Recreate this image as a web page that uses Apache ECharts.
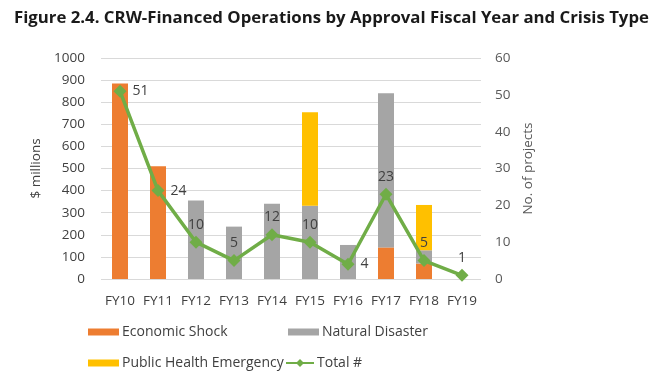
<!DOCTYPE html>
<html><head><meta charset="utf-8">
<script src="https://cdn.jsdelivr.net/npm/echarts@6/dist/echarts.min.js"></script>
<style>html,body{margin:0;padding:0;background:#fff}#c{width:656px;height:378px}</style>
</head><body><div id="c"></div>
<script>
const categories = ['FY10','FY11','FY12','FY13','FY14','FY15','FY16','FY17','FY18','FY19'];
const economicShock = [885, 510, 0, 0, 0, 0, 0, 143, 70, 0];
const naturalDisaster = [0, 0, 355, 237, 340, 332, 154, 697, 60, 0];
const publicHealth = [0, 0, 0, 0, 0, 422, 0, 0, 205, 0];
const totalProjects = [51, 24, 10, 5, 12, 10, 4, 23, 5, 1];
const leftTicks = [0, 1000, 100];
const rightTicks = [0, 60, 10];

const FONT = '"Open Sans", sans-serif';
const rightLabelIdx = [0, 1, 6];
const chart = echarts.init(document.getElementById('c'));
const legendBase = {orient:'horizontal', itemGap:0, textStyle:{fontFamily:FONT,fontSize:14,color:'#404040',padding:[0,0,0,-2]}, itemWidth:31, itemHeight:7, padding:0};
chart.setOption({
  animation:false,
  textStyle:{fontFamily:FONT},
  title:{text:'Figure 2.4. CRW-Financed Operations by Approval Fiscal Year and Crisis Type', left:9, top:5,
    textStyle:{fontFamily:FONT,fontWeight:'bold',fontSize:16.8,color:'#1a1a1a'}},
  grid:{left:101, right:175, top:58, bottom:99},
  legend:[
    Object.assign({}, legendBase, {data:[{name:'Economic Shock',icon:'rect'}], left:88, top:325}),
    Object.assign({}, legendBase, {data:[{name:'Natural Disaster',icon:'rect'}], left:288, top:325}),
    Object.assign({}, legendBase, {data:[{name:'Public Health Emergency',icon:'rect'}], left:88, top:356}),
    Object.assign({}, legendBase, {data:['Total #'], left:285, top:356, itemWidth:28, itemHeight:10})
  ],
  xAxis:{type:'category', data:categories, axisLine:{show:false}, axisTick:{show:false},
    axisLabel:{fontFamily:FONT,fontSize:13.5,color:'#404040',margin:15, interval:0, hideOverlap:false}},
  yAxis:[
    {type:'value', min:leftTicks[0], max:leftTicks[1], interval:leftTicks[2], name:'$ millions', nameLocation:'middle', nameGap:42,
      nameTextStyle:{fontFamily:FONT,fontSize:13.5,color:'#404040'},
      axisLabel:{fontFamily:FONT,fontSize:13.5,color:'#404040',margin:16, formatter:v=>String(v)},
      splitLine:{lineStyle:{color:'#d9d9d9'}}, axisLine:{show:false}, axisTick:{show:false}},
    {type:'value', min:rightTicks[0], max:rightTicks[1], interval:rightTicks[2], name:'No. of projects', nameLocation:'middle', nameGap:36,
      nameTextStyle:{fontFamily:FONT,fontSize:13.5,color:'#595959'},
      axisLabel:{fontFamily:FONT,fontSize:13.5,color:'#595959',margin:14},
      splitLine:{show:false}, axisLine:{show:false}, axisTick:{show:false}}
  ],
  series:[
    {name:'Economic Shock', type:'bar', stack:'a', data:economicShock, barWidth:16, itemStyle:{color:'#ED7D31'}},
    {name:'Natural Disaster', type:'bar', stack:'a', data:naturalDisaster, barWidth:16, itemStyle:{color:'#A5A5A5'}},
    {name:'Public Health Emergency', type:'bar', stack:'a', data:publicHealth, barWidth:16, itemStyle:{color:'#FFC000'}},
    {name:'Total #', type:'line', yAxisIndex:1, data:totalProjects.map((v,i)=>({value:v, label:{position: rightLabelIdx.includes(i)?'right':'top', distance: rightLabelIdx.includes(i)?6:4}})),
      symbol:'diamond', symbolSize:13, lineStyle:{color:'#70AD47', width:3.5}, itemStyle:{color:'#70AD47'},
      label:{show:true, fontFamily:FONT, fontSize:14, color:'#404040'}, z:5}
  ]
});
</script></body></html>
